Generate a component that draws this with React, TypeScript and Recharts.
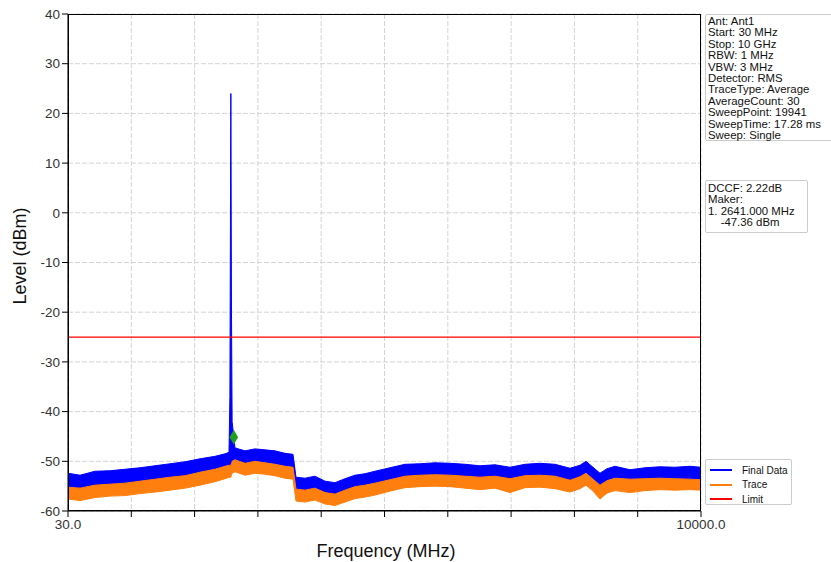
import {
  ComposedChart, Area, Scatter, XAxis, YAxis, CartesianGrid, ReferenceLine,
} from "recharts";

// frequency points (MHz)
const freq = [
  30, 219, 455, 692, 928, 1164, 1400, 1637, 1873, 2109, 2345, 2503, 2566,
  2580, 2595, 2605, 2615, 2660, 2818, 2975, 3133, 3290, 3448, 3574,
  3621, 3763, 3920, 4078, 4235, 4393, 4550, 4708, 4865, 5102, 5338, 5574,
  5810, 6047, 6283, 6519, 6755, 6992, 7228, 7464, 7700, 7937, 8094, 8189,
  8299, 8409, 8519, 8645, 8882, 9118, 9354, 9590, 9827, 10000,
];
// Final Data band (upper / lower edge, dBm)
const finalHi = [
  -52.4, -52.8, -52.0, -51.9, -51.6, -51.3, -50.9, -50.5, -50.1, -49.5, -49.0, -48.5, -48.2,
  -37.0, 24.0, -20.0, -42.0, -47.3, -47.9, -47.5, -47.7, -47.9, -48.4, -48.6,
  -53.2, -53.4, -53.0, -54.0, -54.3, -53.5, -52.8, -52.5, -52.0, -51.3, -50.6, -50.5,
  -50.3, -50.4, -50.6, -50.9, -50.7, -51.2, -50.6, -50.4, -50.6, -51.4, -50.8, -50.0,
  -51.2, -52.4, -51.5, -51.0, -51.7, -51.3, -51.1, -51.2, -51.0, -51.2,
];
const finalLo = [
  -56.0, -56.3, -55.6, -55.4, -55.2, -54.8, -54.4, -54.0, -53.7, -53.0, -52.4, -51.8, -51.6,
  -51.5, -51.5, -51.0, -50.5, -50.5, -51.2, -50.8, -51.1, -51.4, -51.8, -52.0,
  -56.4, -56.6, -56.2, -57.1, -57.4, -56.6, -55.9, -55.6, -55.2, -54.5, -53.8, -53.6,
  -53.5, -53.6, -53.8, -54.0, -53.8, -54.3, -53.7, -53.6, -53.8, -54.6, -53.9, -53.2,
  -54.4, -55.6, -54.7, -54.2, -54.4, -54.3, -54.2, -54.3, -54.4, -54.5,
];
// Trace band (upper / lower edge, dBm)
const traceHi = [
  -55.2, -55.4, -54.8, -54.6, -54.4, -54.0, -53.6, -53.2, -52.9, -52.2, -51.6, -51.0, -50.8,
  -50.8, -50.8, -50.5, -50.0, -49.7, -50.4, -50.0, -50.3, -50.6, -51.0, -51.2,
  -55.6, -55.8, -55.4, -56.3, -56.6, -55.8, -55.1, -54.8, -54.4, -53.7, -53.0, -52.8,
  -52.7, -52.8, -53.0, -53.2, -53.0, -53.5, -52.9, -52.8, -53.0, -53.8, -53.1, -52.4,
  -53.6, -54.8, -53.9, -53.4, -53.6, -53.5, -53.4, -53.5, -53.6, -53.7,
];
const traceLo = [
  -57.6, -57.9, -57.3, -57.0, -56.9, -56.5, -56.2, -55.8, -55.4, -54.8, -54.1, -53.5, -53.2,
  -53.2, -53.2, -52.8, -52.4, -52.1, -52.8, -52.4, -52.6, -52.9, -53.4, -53.6,
  -58.0, -58.2, -57.8, -58.6, -58.9, -58.2, -57.5, -57.2, -56.8, -56.0, -55.3, -55.1,
  -55.0, -55.1, -55.4, -55.7, -55.4, -56.3, -55.3, -55.2, -55.5, -56.2, -55.5, -54.8,
  -56.0, -57.6, -56.4, -55.9, -56.3, -55.9, -55.7, -55.8, -55.7, -55.8,
];

const xTicks = [30, 1027, 2024, 3021, 4018, 5015, 6012, 7009, 8006, 9003, 10000];
const yTicks = [-60, -50, -40, -30, -20, -10, 0, 10, 20, 30, 40];
const limit = -25;
const marker = [{ f: 2641, lvl: -45.14 }];

const infoLines = [
  "Ant: Ant1", "Start: 30 MHz", "Stop: 10 GHz", "RBW: 1 MHz", "VBW: 3 MHz",
  "Detector: RMS", "TraceType: Average", "AverageCount: 30", "SweepPoint: 19941",
  "SweepTime: 17.28 ms", "Sweep: Single",
];
const markerLines = ["DCCF: 2.22dB", "Maker:", "1. 2641.000 MHz", "    -47.36 dBm"];
const legendItems = [
  { name: "Final Data", color: "#0000ff" },
  { name: "Trace", color: "#ff7f0e" },
  { name: "Limit", color: "#ff0000" },
];

const data = freq.map((f, i) => ({
  f,
  fin: [finalLo[i], finalHi[i]],
  tr: [traceLo[i], traceHi[i]],
}));

const font = "'Liberation Sans', Arial, sans-serif";

export default function App() {
  return (
    <div style={{ position: "absolute", left: 0, top: 0, width: 831, height: 562, background: "#fff", fontFamily: font, overflow: "hidden" }}>
      <ComposedChart width={831} height={562} data={data}
        margin={{ top: 14, right: 130, bottom: 21, left: 0 }}>
        <CartesianGrid stroke="#d4d4d4" strokeDasharray="5 2" />
        <XAxis dataKey="f" type="number" domain={[30, 10000]} ticks={xTicks}
          height={30} stroke="#000" tickSize={6} interval={0}
          tick={{ fontSize: 13.5, fill: "#333", fontFamily: font }}
          tickFormatter={(v: number) => (v === 30 || v === 10000 ? v.toFixed(1) : "")} />
        <YAxis type="number" domain={[-60, 40]} ticks={yTicks} width={68}
          stroke="#000" tickSize={6} interval={0}
          tick={{ fontSize: 13.5, fill: "#333", fontFamily: font }} />
        <Area dataKey="fin" type="linear" stroke="#0000ff" strokeWidth={1}
          fill="#0000ff" fillOpacity={1} isAnimationActive={false} />
        <Area dataKey="tr" type="linear" stroke="#ff7f0e" strokeWidth={1}
          fill="#ff7f0e" fillOpacity={1} isAnimationActive={false} />
        <ReferenceLine y={limit} stroke="#ff0000" strokeWidth={1.2} />
        <Scatter data={marker} dataKey="lvl" shape="diamond" fill="#1f9e1f"
          isAnimationActive={false} />
      </ComposedChart>

      {/* plot frame */}
      <div style={{ position: "absolute", left: 68, top: 14, width: 633, height: 497,
        border: "1px solid #000", boxSizing: "border-box", pointerEvents: "none" }} />

      <div style={{ position: "absolute", left: 0, top: 256, width: 0, height: 0 }}>
        <div style={{ position: "absolute", transform: "translate(-50%,-50%) rotate(-90deg)",
          left: 20, top: 0, fontSize: 18, color: "#111", whiteSpace: "nowrap" }}>Level (dBm)</div>
      </div>
      <div style={{ position: "absolute", left: 386, top: 551, transform: "translate(-50%,-50%)",
        fontSize: 18, color: "#111", whiteSpace: "nowrap" }}>Frequency (MHz)</div>

      <div style={{ position: "absolute", left: 705, top: 14, width: 140, height: 127,
        border: "1px solid #ccc", borderRadius: 2, boxSizing: "border-box",
        padding: "1px 0 0 2px", fontSize: 11.4, lineHeight: "11.4px", color: "#111" }}>
        {infoLines.map((t) => <div key={t} style={{ whiteSpace: "pre", height: 11.4 }}>{t}</div>)}
      </div>

      <div style={{ position: "absolute", left: 705, top: 180, width: 103, height: 53,
        border: "1px solid #ccc", borderRadius: 2, boxSizing: "border-box",
        padding: "2px 0 0 2px", fontSize: 11.4, lineHeight: "11.4px", color: "#111" }}>
        {markerLines.map((t) => <div key={t} style={{ whiteSpace: "pre", height: 11.4 }}>{t}</div>)}
      </div>

      <div style={{ position: "absolute", left: 705, top: 459, width: 87, height: 46,
        border: "1px solid #ccc", borderRadius: 2, boxSizing: "border-box",
        padding: "3px 0 0 4px", fontSize: 10, color: "#111" }}>
        {legendItems.map((l) => (
          <div key={l.name} style={{ display: "flex", alignItems: "center", height: 14.5 }}>
            <div style={{ width: 22, height: 2, background: l.color, marginRight: 10 }} />
            <span>{l.name}</span>
          </div>
        ))}
      </div>
    </div>
  );
}
